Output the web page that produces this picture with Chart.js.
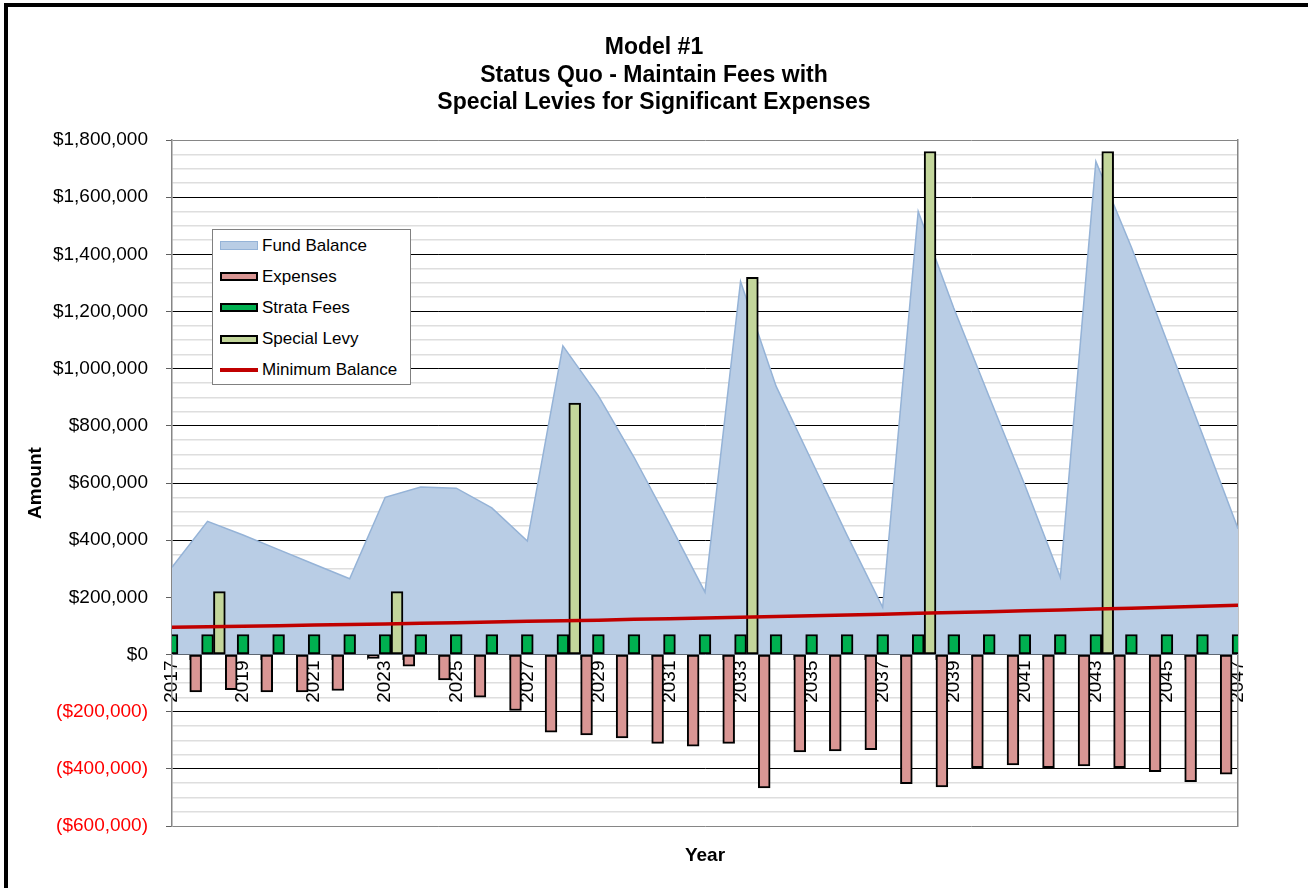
<!DOCTYPE html>
<html lang="en">
<head>
    <meta charset="UTF-8">
    <title>Model #1 - Status Quo</title>
    <script src="https://cdn.jsdelivr.net/npm/chart.js"></script>
    <style>
        body {
            margin: 0;
            background: #fff;
            font-family: "Liberation Sans", Arial, sans-serif;
        }
        .wrap {
            position: relative;
            width: 1308px;
            height: 888px;
            overflow: hidden;
        }
        .frame {
            position: absolute;
            left: 4px;
            top: 3px;
            width: 1400px;
            height: 1000px;
            border-left: 4px solid #000;
            border-top: 4px solid #000;
        }
        canvas {
            position: absolute;
            left: 0;
            top: 0;
        }
        #legend {
            position: absolute;
            left: 212px;
            top: 229px;
            width: 199px;
            height: 156px;
            box-sizing: border-box;
            border: 1px solid #808080;
            background: #fff;
        }
        .item {
            display: flex;
            align-items: center;
            height: 31.2px;
            font-size: 17px;
            color: #000;
        }
        .swatch {
            width: 38px;
            height: 9px;
            box-sizing: border-box;
            margin: 0 4px 0 7px;
        }
    </style>
</head>
<body>
    <div class="wrap">
        <div class="frame"></div>
        <canvas id="fundChart" width="1308" height="888"></canvas>
        <div id="legend"></div>
    </div>

    <script>
        const FONT = '"Liberation Sans", Arial, sans-serif';

        const years = ['2017', '2018', '2019', '2020', '2021', '2022', '2023', '2024', '2025', '2026',
                       '2027', '2028', '2029', '2030', '2031', '2032', '2033', '2034', '2035', '2036',
                       '2037', '2038', '2039', '2040', '2041', '2042', '2043', '2044', '2045', '2046', '2047'];

        const fundBalance = [305000, 466000, 418000, 367000, 316000, 265000, 550000, 586000, 582000, 513000,
                             397000, 1080000, 905000, 691000, 458000, 218000, 1305000, 939000, 678000, 417000,
                             165000, 1550000, 1212000, 901000, 593000, 270000, 1725000, 1425000, 1097000, 770000, 440000];

        const expenses = [-120000, -131000, -123000, -131000, -131000, -126000, -14000, -41000, -89000, -149000,
                          -196000, -272000, -281000, -292000, -311000, -321000, -311000, -467000, -341000, -337000,
                          -333000, -452000, -463000, -396000, -386000, -396000, -390000, -396000, -410000, -445000, -419000];

        const strataFees = [70000, 70000, 70000, 70000, 70000, 70000, 70000, 70000, 70000, 70000,
                            70000, 70000, 70000, 70000, 70000, 70000, 70000, 70000, 70000, 70000,
                            70000, 70000, 70000, 70000, 70000, 70000, 70000, 70000, 70000, 70000, 70000];

        const specialLevy = [null, 220000, null, null, null, null, 220000, null, null, null,
                             null, 880000, null, null, null, null, 1320000, null, null, null,
                             null, 1760000, null, null, null, null, 1760000, null, null, null, null];

        const minBalance = [95000, 97000, 99000, 101000, 103000, 105000, 107000, 109000, 111000, 114000,
                            116000, 118000, 120000, 123000, 125000, 128000, 130000, 133000, 136000, 138000,
                            141000, 144000, 147000, 150000, 153000, 156000, 159000, 162000, 165000, 169000, 172000];

        const titleLines = ['Model #1', 'Status Quo - Maintain Fees with', 'Special Levies for Significant Expenses'];

        function money(v) {
            const s = '$' + Math.abs(v).toLocaleString('en-US');
            return v < 0 ? '(' + s + ')' : s;
        }

        function isMajor(v) {
            return Math.round(v) % 200000 === 0;
        }

        const ctx = document.getElementById('fundChart').getContext('2d');

        const chart = new Chart(ctx, {
            type: 'bar',
            data: {
                labels: years,
                datasets: [
                    {
                        type: 'line',
                        label: 'Fund Balance',
                        data: fundBalance,
                        order: 3,
                        fill: 'origin',
                        backgroundColor: '#b9cde5',
                        borderColor: '#95b3d7',
                        borderWidth: 1.5,
                        pointRadius: 0,
                        tension: 0,
                        clip: 0
                    },
                    {
                        label: 'Expenses',
                        data: expenses,
                        order: 2,
                        backgroundColor: '#d99694',
                        borderColor: '#000',
                        borderWidth: 2,
                        borderSkipped: false,
                        clip: 0
                    },
                    {
                        label: 'Strata Fees',
                        data: strataFees,
                        order: 2,
                        backgroundColor: '#00b050',
                        borderColor: '#000',
                        borderWidth: 2,
                        borderSkipped: false,
                        clip: 0
                    },
                    {
                        label: 'Special Levy',
                        data: specialLevy,
                        order: 2,
                        backgroundColor: '#c3d69b',
                        borderColor: '#000',
                        borderWidth: 2,
                        borderSkipped: false,
                        clip: 0
                    },
                    {
                        type: 'line',
                        label: 'Minimum Balance',
                        data: minBalance,
                        order: 1,
                        fill: false,
                        borderColor: '#c00000',
                        borderWidth: 3.5,
                        pointRadius: 0,
                        tension: 0
                    }
                ]
            },
            options: {
                responsive: false,
                animation: false,
                datasets: {
                    bar: { categoryPercentage: 1.0, barPercentage: 1.0 }
                },
                layout: { padding: 0 },
                plugins: {
                    legend: { display: false },
                    tooltip: { enabled: false },
                    title: {
                        display: true,
                        text: titleLines,
                        color: '#000',
                        font: { family: FONT, size: 23, weight: 'bold', lineHeight: 1.196 },
                        padding: { top: 34, bottom: 23.5 }
                    }
                },
                scales: {
                    x: {
                        type: 'category',
                        position: { y: 0 },
                        offset: false,
                        grid: {
                            drawOnChartArea: false,
                            drawTicks: true,
                            tickLength: 5,
                            tickColor: '#808080'
                        },
                        border: { display: false },
                        ticks: {
                            autoSkip: false,
                            minRotation: 90,
                            maxRotation: 90,
                            padding: 1,
                            color: '#000',
                            font: { family: FONT, size: 19 },
                            callback: function(val, i) {
                                return i % 2 === 0 ? this.getLabelForValue(val) : '';
                            }
                        }
                    },
                    xTitle: {
                        type: 'category',
                        position: 'bottom',
                        offset: false,
                        grid: { display: false },
                        border: { display: false },
                        ticks: { display: false },
                        title: {
                            display: true,
                            text: 'Year',
                            color: '#000',
                            font: { family: FONT, size: 19, weight: 'bold' },
                            padding: { top: 0, bottom: 21 }
                        },
                        afterFit: function(s) { s.height = 62; }
                    },
                    y: {
                        min: -600000,
                        max: 1800000,
                        ticks: {
                            stepSize: 50000,
                            autoSkip: false,
                            padding: 18,
                            font: { family: FONT, size: 19 },
                            color: c => c.tick.value < 0 ? '#ff0000' : '#000',
                            callback: v => isMajor(v) ? money(v) : ''
                        },
                        grid: {
                            color: c => {
                                const v = c.tick.value;
                                if (v === 1800000 || v === -600000) return '#868686';
                                return isMajor(v) ? '#000' : '#dedede';
                            },
                            lineWidth: c => isMajor(c.tick.value) ? 1 : 1.5,
                            tickColor: c => isMajor(c.tick.value) ? '#606060' : 'rgba(0,0,0,0)',
                            tickLength: 6
                        },
                        border: { color: '#868686', width: 1.5 },
                        title: {
                            display: true,
                            text: 'Amount',
                            color: '#000',
                            font: { family: FONT, size: 19, weight: 'bold' },
                            padding: { top: 24, bottom: 0 }
                        },
                        afterFit: function(s) { s.width = 172; }
                    },
                    yRight: {
                        position: 'right',
                        min: -600000,
                        max: 1800000,
                        grid: { drawOnChartArea: false, drawTicks: false },
                        ticks: { display: false },
                        border: { color: '#868686', width: 1.5 },
                        afterFit: function(s) { s.width = 70; }
                    }
                }
            }
        });

        // html legend, built from the datasets
        const legend = document.getElementById('legend');
        chart.data.datasets.forEach(ds => {
            const row = document.createElement('div');
            row.className = 'item';
            const sw = document.createElement('span');
            sw.className = 'swatch';
            if (ds.label === 'Minimum Balance') {
                sw.style.height = '4px';
                sw.style.background = ds.borderColor;
            } else if (ds.label === 'Fund Balance') {
                sw.style.background = ds.backgroundColor;
                sw.style.border = '1.5px solid ' + ds.borderColor;
            } else {
                sw.style.background = ds.backgroundColor;
                sw.style.border = '2px solid #000';
            }
            const txt = document.createElement('span');
            txt.textContent = ds.label;
            row.appendChild(sw);
            row.appendChild(txt);
            legend.appendChild(row);
        });
    </script>
</body>
</html>
